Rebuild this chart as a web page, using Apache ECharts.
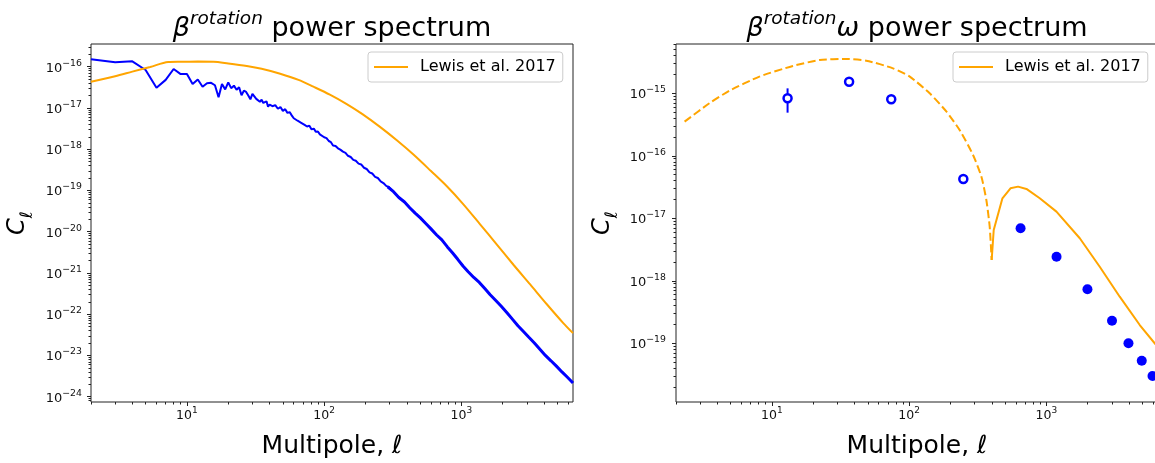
<!DOCTYPE html>
<html><head><meta charset="utf-8">
<script src="https://cdn.jsdelivr.net/npm/echarts@6/dist/echarts.min.js"></script>
<style>html,body{margin:0;padding:0;background:#fff}#c{width:1155px;height:463px}</style>
</head><body><div id="c"></div>
<script>
// ---------- data ----------
// Left panel: measured beta-rotation spectrum (blue)
const blueLowL = [2,3,4,5,6,7,8,9,10,11,12,13,14,15,16,17,18,19,20,21,22,23,24,25,26,27,28,29,30,31,32,33,34,35,36,37,38,39,40,42,44,46,48,50,52,54,56,58,60,62,64,66,68,70,72,75,78,81,84,87,90,93,96,100,104,108,112,116,121,126,131,137,143,149,156,163,170,178,186,195,204,214,224,235,246,258,270,283,296,310];
const blueLowC = [1.51e-16,1.28e-16,1.35e-16,8.32e-17,3.09e-17,4.79e-17,8.79e-17,6.61e-17,6.61e-17,3.80e-17,4.90e-17,3.27e-17,3.98e-17,4.07e-17,3.55e-17,1.82e-17,3.80e-17,2.82e-17,4.17e-17,3.02e-17,3.47e-17,2.75e-17,3.16e-17,2.04e-17,2.63e-17,2.45e-17,2.00e-17,1.62e-17,2.19e-17,2.04e-17,1.66e-17,1.82e-17,1.41e-17,1.58e-17,1.32e-17,1.26e-17,1.45e-17,1.07e-17,1.20e-17,1.10e-17,1.17e-17,9.55e-18,1.05e-17,8.51e-18,9.33e-18,7.59e-18,7.94e-18,6.61e-18,5.62e-18,6.03e-18,4.90e-18,5.25e-18,4.37e-18,4.68e-18,3.89e-18,3.55e-18,3.72e-18,3.02e-18,3.16e-18,2.63e-18,2.69e-18,2.29e-18,2.34e-18,1.95e-18,1.86e-18,1.58e-18,1.48e-18,1.23e-18,1.20e-18,1.05e-18,9.77e-19,8.71e-19,8.13e-19,6.92e-19,6.46e-19,5.50e-19,5.25e-19,4.47e-19,4.27e-19,3.55e-19,3.31e-19,2.75e-19,2.57e-19,2.14e-19,2.00e-19,1.66e-19,1.51e-19,1.29e-19,1.20e-19,1.00e-19];
const blueHighL = [290,320,350,385,420,460,500,550,600,660,720,790,860,940,1030,1120,1230,1350,1480,1620,1780,1950,2140,2350,2580,2830,3100,3400,3730,4090,4490,4920,5400,5920,6500];
const blueHighC = [1.23e-19,9.33e-20,6.76e-20,5.25e-20,3.80e-20,2.82e-20,2.19e-20,1.58e-20,1.17e-20,8.32e-21,6.31e-21,4.27e-21,3.09e-21,2.14e-21,1.45e-21,1.07e-21,7.76e-22,5.89e-22,4.17e-22,2.95e-22,2.14e-22,1.55e-22,1.10e-22,7.59e-23,5.25e-23,3.80e-23,2.75e-23,2.00e-23,1.41e-23,1.00e-23,7.41e-24,5.50e-24,3.98e-24,2.95e-24,2.14e-24];
// Left panel: Lewis et al. 2017 (orange)
const lewisL = [2,3,4,5.4,7.3,9,12,15.6,20,27.3,35,47.8,65,83.5,110,146,190,255,340,447,600,783,1030,1368,1800,2393,3170,4190,5500,6500];
const lewisC = [4.33e-17,5.89e-17,7.59e-17,9.84e-17,1.30e-16,1.32e-16,1.33e-16,1.32e-16,1.20e-16,1.04e-16,8.91e-17,6.76e-17,4.79e-17,3.27e-17,2.10e-17,1.24e-17,7.08e-18,3.47e-18,1.62e-18,7.41e-19,2.95e-19,1.26e-19,4.68e-20,1.51e-20,5.01e-21,1.58e-21,5.25e-22,1.74e-22,6.17e-23,3.47e-23];
// Right panel: Lewis et al. 2017 cross spectrum, negative part (dashed, |C|) and positive part (solid)
const lewisNegL = [2.31,3.5,4.9,8.1,14.2,22.3,34.8,48.7,76.2,101,141,187,233,292,336,365,386,399];
const lewisNegC = [3.52e-16,6.92e-16,1.10e-15,1.85e-15,2.74e-15,3.41e-15,3.54e-15,3.33e-15,2.51e-15,1.85e-15,1.00e-15,5.08e-16,2.59e-16,1.03e-16,4.63e-17,1.96e-17,7.35e-18,2.15e-18];
const lewisPosL = [399,413,478,547,621,715,894,1183,1750,2446,3420,4786,6150,6500];
const lewisPosC = [2.15e-18,6.50e-18,2.09e-17,3.02e-17,3.21e-17,2.95e-17,2.09e-17,1.28e-17,4.79e-18,1.68e-18,5.57e-19,1.96e-19,1.00e-19,8.71e-20];
// Right panel: binned measurement, negative bins (open) and positive bins (filled)
const binOpenL = [13,36.5,74,248];
const binOpenC = [8.32e-16,1.53e-15,8.02e-16,4.26e-17];
const binOpenLo = [4.90e-16,1.45e-15,7.50e-16,3.95e-17];
const binOpenHi = [1.20e-15,1.62e-15,8.60e-16,4.60e-17];
const binFillL = [648,1185,1990,3005,3960,4950,5930];
const binFillC = [6.92e-18,2.43e-18,7.31e-19,2.30e-19,1.00e-19,5.27e-20,3.00e-20];
// Axes
const xMin = 2, xMax = 6500;
const leftYMin = 7.43e-25, leftYMax = 3.55e-16;
const rightYMin = 1.15e-20, rightYMax = 6.15e-15;
const xMajorExp = [1,2,3];
const leftYMajorExp = [-24,-23,-22,-21,-20,-19,-18,-17,-16];
const rightYMajorExp = [-19,-18,-17,-16,-15];
const minorMult = [2,3,4,5,6,7,8,9];
const legendName = 'Lewis et al. 2017';

// ---------- chart ----------
const L = Math.log10;
const pairs = (xs, ys) => xs.map((x, i) => [L(x), L(ys[i])]);
const font = 'DejaVu Sans';
const axisColor = '#222';
const blue = '#0000ff', orange = '#ffa500';

function minorTicks(lo, hi) {
  const out = [];
  for (let e = Math.floor(lo) - 1; e <= Math.ceil(hi); e++) {
    for (const k of minorMult) { const v = e + L(k); if (v >= lo - 1e-9 && v <= hi + 1e-9) out.push(v); }
  }
  return out;
}
function powLabel(v) {
  const e = Math.round(v);
  return '{b|10}{s|' + (e < 0 ? '\u2212' + (-e) : e) + '}';
}
function tickRich(size) {
  return {
    b: {fontSize: size, lineHeight: 16, verticalAlign: 'bottom', fontFamily: font, fontWeight: 'normal', color: '#111'},
    s: {fontSize: size * 0.72, lineHeight: 9, verticalAlign: 'top', fontFamily: font, fontWeight: 'normal', color: '#111'}
  };
}
function xAxes(g) {
  const lo = L(xMin), hi = L(xMax);
  return [{
    type: 'value', gridIndex: g, min: lo, max: hi, position: 'bottom',
    axisLine: {show: false}, splitLine: {show: false},
    axisTick: {show: true, customValues: xMajorExp, length: 4, lineStyle: {color: axisColor, width: 1}},
    axisLabel: {show: true, customValues: xMajorExp, formatter: powLabel, margin: 4, rich: tickRich(12.5)},
    name: '{n|Multipole, }{l|\u2113}', nameLocation: 'middle', nameGap: 29,
    nameTextStyle: {rich: {
      n: {fontSize: 25, lineHeight: 30, fontFamily: font, fontWeight: 'normal', color: '#000'},
      l: {fontSize: 25, lineHeight: 30, fontFamily: font, fontWeight: 'normal', fontStyle: 'italic', color: '#000'}
    }}
  }, {
    type: 'value', gridIndex: g, min: lo, max: hi, position: 'bottom',
    axisLine: {show: false}, splitLine: {show: false},
    axisTick: {show: true, customValues: minorTicks(lo, hi), length: 2.5, lineStyle: {color: axisColor, width: 1}},
    axisLabel: {show: false}
  }];
}
function yAxes(g, yMin, yMax, majors, margin) {
  const lo = L(yMin), hi = L(yMax);
  return [{
    type: 'value', gridIndex: g, min: lo, max: hi, position: 'left',
    axisLine: {show: false}, splitLine: {show: false},
    axisTick: {show: true, customValues: majors, length: 4, lineStyle: {color: axisColor, width: 1}},
    axisLabel: {show: true, customValues: majors, formatter: powLabel, margin: margin, rich: tickRich(13)},
    name: '{c|C}{s|\u2113}', nameLocation: 'middle', nameRotate: 90, nameGap: 55,
    nameTextStyle: {rich: {
      c: {fontSize: 24, lineHeight: 30, verticalAlign: 'top', fontFamily: font, fontWeight: 'normal', fontStyle: 'italic', color: '#000'},
      s: {fontSize: 17, lineHeight: 14, verticalAlign: 'bottom', fontFamily: font, fontWeight: 'normal', fontStyle: 'italic', color: '#000'}
    }}
  }, {
    type: 'value', gridIndex: g, min: lo, max: hi, position: 'left',
    axisLine: {show: false}, splitLine: {show: false},
    axisTick: {show: true, customValues: minorTicks(lo, hi), length: 2.5, lineStyle: {color: axisColor, width: 1}},
    axisLabel: {show: false}
  }];
}
function titleRich() {
  return {
    g: {fontSize: 27, lineHeight: 32, verticalAlign: 'bottom', fontFamily: font, fontWeight: 'normal', fontStyle: 'italic', color: '#000'},
    u: {fontSize: 18.5, lineHeight: 18, verticalAlign: 'top', fontFamily: font, fontWeight: 'normal', fontStyle: 'italic', color: '#000'},
    n: {fontSize: 27, lineHeight: 32, verticalAlign: 'bottom', fontFamily: font, fontWeight: 'normal', color: '#000'}
  };
}
function legend(left) {
  return {
    data: [legendName], left: left, top: 52, orient: 'horizontal',
    padding: [6, 7, 6, 6], itemWidth: 34, itemHeight: 2, icon: 'rect',
    itemStyle: {borderWidth: 0},
    backgroundColor: 'rgba(255,255,255,0.8)', borderColor: '#cccccc', borderWidth: 1, borderRadius: 3,
    textStyle: {fontSize: 16, lineHeight: 18, fontFamily: font, color: '#000', padding: [0, 0, 0, 7]},
    selectedMode: false
  };
}

const openData = binOpenL.map((l, i) => [L(l), L(binOpenC[i])]);
const errData = binOpenL.map((l, i) => [L(l), L(binOpenLo[i]), L(binOpenHi[i])]);

const option = {
  animation: false,
  backgroundColor: '#fff',
  title: [
    {text: '{g|\u03b2}{u|rotation}{n| power spectrum}', left: 332, top: 10, textAlign: 'center', padding: 0, textStyle: {fontWeight: 'normal', rich: titleRich()}},
    {text: '{g|\u03b2}{u|rotation}{g|\u03c9}{n| power spectrum}', left: 917, top: 10, textAlign: 'center', padding: 0, textStyle: {fontWeight: 'normal', rich: titleRich()}}
  ],
  legend: [legend(368), legend(953)],
  grid: [
    {left: 91, top: 44, width: 482, height: 358, show: true, borderColor: axisColor, borderWidth: 1, backgroundColor: 'transparent', containLabel: false, outerBoundsMode: 'none'},
    {left: 676, top: 44, width: 482, height: 358, show: true, borderColor: axisColor, borderWidth: 1, backgroundColor: 'transparent', containLabel: false, outerBoundsMode: 'none'}
  ],
  xAxis: [...xAxes(0), ...xAxes(1)],
  yAxis: [...yAxes(0, leftYMin, leftYMax, leftYMajorExp, 9), ...yAxes(1, rightYMin, rightYMax, rightYMajorExp, 10)],
  series: [
    {type: 'line', name: 'dataLow', xAxisIndex: 0, yAxisIndex: 0, data: pairs(blueLowL, blueLowC), symbol: 'none', lineStyle: {color: blue, width: 2}, itemStyle: {color: blue}, z: 2},
    {type: 'line', name: 'dataHigh', xAxisIndex: 0, yAxisIndex: 0, data: pairs(blueHighL, blueHighC), symbol: 'none', lineStyle: {color: blue, width: 3}, itemStyle: {color: blue}, z: 2},
    {type: 'line', name: legendName, xAxisIndex: 0, yAxisIndex: 0, data: pairs(lewisL, lewisC), symbol: 'none', smooth: 0.3, lineStyle: {color: orange, width: 2}, itemStyle: {color: orange}, z: 3},
    {type: 'line', name: 'lewisNeg', xAxisIndex: 2, yAxisIndex: 2, data: pairs(lewisNegL, lewisNegC), symbol: 'none', smooth: 0.2, lineStyle: {color: orange, width: 2, type: [8, 3.5]}, itemStyle: {color: orange}, z: 2},
    {type: 'line', name: legendName, xAxisIndex: 2, yAxisIndex: 2, data: pairs(lewisPosL, lewisPosC), symbol: 'none', lineStyle: {color: orange, width: 2}, itemStyle: {color: orange}, z: 2},
    {type: 'custom', name: 'err', xAxisIndex: 2, yAxisIndex: 2, data: errData, encode: {x: 0, y: [1, 2]}, z: 3,
      renderItem: function (params, api) {
        const p1 = api.coord([api.value(0), api.value(1)]);
        const p2 = api.coord([api.value(0), api.value(2)]);
        return {type: 'line', shape: {x1: p1[0], y1: p1[1], x2: p2[0], y2: p2[1]}, style: {stroke: blue, lineWidth: 2}};
      }},
    {type: 'scatter', name: 'binNeg', xAxisIndex: 2, yAxisIndex: 2, data: openData, symbol: 'circle', symbolSize: 8,
      itemStyle: {color: '#fff', borderColor: blue, borderWidth: 2.5, opacity: 1}, z: 4},
    {type: 'scatter', name: 'binPos', xAxisIndex: 2, yAxisIndex: 2, data: pairs(binFillL, binFillC), symbol: 'circle', symbolSize: 10,
      itemStyle: {color: blue, opacity: 1}, z: 4}
  ]
};
const chart = echarts.init(document.getElementById('c'), null, {renderer: 'canvas'});
chart.setOption(option);
</script></body></html>
